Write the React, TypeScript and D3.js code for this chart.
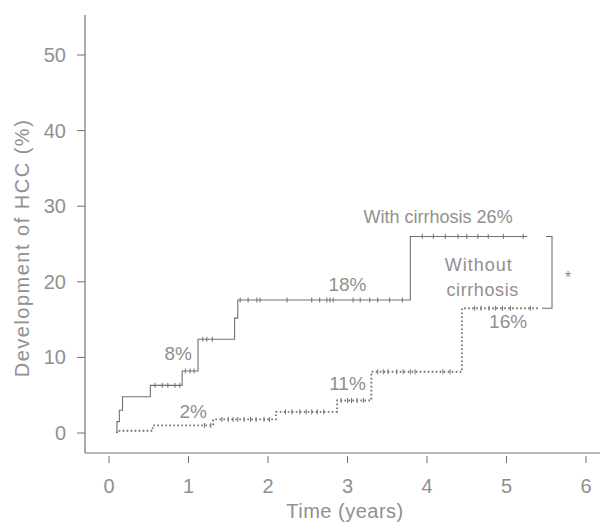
import React from "react";
import * as d3 from "d3";

// ---- Data ----
const xTicks = [0, 1, 2, 3, 4, 5, 6];
const yTicks = [0, 10, 20, 30, 40, 50];

// With cirrhosis: step times and cumulative incidence (%)
const withTimes = [0.1, 0.13, 0.17, 0.52, 0.92, 1.12, 1.58, 1.62, 3.79];
const withValues = [1.5, 3.0, 4.8, 6.3, 8.2, 12.4, 15.2, 17.6, 26.0];
const withEnd = 5.26;
const withCensor = [0.58, 0.67, 0.74, 0.83, 0.89, 0.96, 1.02, 1.07, 1.18, 1.23, 1.3,
  1.65, 1.75, 1.86, 1.9, 2.24, 2.55, 2.65, 2.74, 2.78, 2.82, 3.07, 3.16, 3.28, 3.38, 3.53, 3.69,
  3.94, 4.08, 4.23, 4.39, 4.5, 4.64, 4.77, 4.96, 5.21];

// Without cirrhosis
const withoutTimes = [0.1, 0.55, 1.31, 2.1, 2.87, 3.3, 4.44];
const withoutValues = [0.3, 1.0, 1.8, 2.8, 4.3, 8.1, 16.5];
const withoutEnd = 5.42;
const withoutCensor = [1.2, 1.28, 1.42, 1.5, 1.56, 1.62, 1.7, 1.78, 1.85, 1.95, 2.02,
  2.22, 2.3, 2.4, 2.48, 2.55, 2.62, 2.7, 2.92, 3.0, 3.05, 3.12, 3.2,
  3.38, 3.45, 3.51, 3.62, 3.7, 3.79, 3.85, 4.2, 4.29, 4.6, 4.68, 4.78, 4.86, 4.95, 5.05, 5.3];

const labels = [
  { text: "8%", t: 0.87, v: 10.6, size: 19, ls: 0 },
  { text: "2%", t: 1.06, v: 2.9, size: 19, ls: 0 },
  { text: "18%", t: 3.0, v: 19.6, size: 19, ls: 0 },
  { text: "11%", t: 3.0, v: 6.6, size: 19, ls: 0 },
  { text: "16%", t: 5.02, v: 14.8, size: 19, ls: 0 },
  { text: "With cirrhosis 26%", t: 4.14, v: 28.6, size: 18, ls: 0 },
  { text: "Without", t: 4.65, v: 22.3, size: 18, ls: 1 },
  { text: "cirrhosis", t: 4.7, v: 19.0, size: 18, ls: 0.6 },
];

const textColor = "#909090";
const lineColor = "#707070";
const font = "'Liberation Sans', Arial, sans-serif";

function stepPoints(times: number[], values: number[], end: number): [number, number][] {
  const pts: [number, number][] = [[times[0], 0]];
  let prev = 0;
  times.forEach((t, i) => {
    pts.push([t, prev]);
    pts.push([t, values[i]]);
    prev = values[i];
  });
  pts.push([end, prev]);
  return pts;
}

function valueAt(times: number[], values: number[], t: number): number {
  let v = 0;
  times.forEach((tt, i) => { if (tt <= t) v = values[i]; });
  return v;
}

export default function App() {
  const x = d3.scaleLinear().domain([0, 6]).range([109, 586]);
  const y = d3.scaleLinear().domain([0, 50]).range([433, 55]);
  const line = d3.line<[number, number]>().x(d => x(d[0])).y(d => y(d[1]));

  const withPath = line(stepPoints(withTimes, withValues, withEnd)) || "";
  const withoutPath = line(stepPoints(withoutTimes, withoutValues, withoutEnd)) || "";

  const axisX0 = 85;
  const axisY0 = 453;

  const bracketX = 552;
  const topV = withValues[withValues.length - 1];
  const botV = withoutValues[withoutValues.length - 1];

  return (
    <svg width={600} height={527} style={{ position: "fixed", left: 0, top: 0, background: "#fff" }}
      fontFamily={font}>
      {/* Axes */}
      <line x1={axisX0} y1={15} x2={axisX0} y2={axisY0} stroke={lineColor} strokeWidth={1.2} />
      <line x1={axisX0} y1={axisY0} x2={600} y2={axisY0} stroke={lineColor} strokeWidth={1.2} />
      {yTicks.map(v => (
        <g key={"y" + v}>
          <line x1={axisX0 - 8} x2={axisX0} y1={y(v)} y2={y(v)} stroke={lineColor} strokeWidth={1} />
          <text x={66} y={y(v)} dy="0.35em" textAnchor="end" fontSize={20} fill={textColor}>{v}</text>
        </g>
      ))}
      {xTicks.map(t => (
        <g key={"x" + t}>
          <line x1={x(t)} x2={x(t)} y1={axisY0 + 3} y2={axisY0 + 10} stroke={lineColor} strokeWidth={1} />
          <text x={x(t)} y={486} dy="0.35em" textAnchor="middle" fontSize={20} fill={textColor}>{t}</text>
        </g>
      ))}
      <text x={345} y={511} dy="0.35em" textAnchor="middle" fontSize={20} letterSpacing={0.5} fill={textColor}>Time (years)</text>
      <text transform={`translate(22,248) rotate(-90)`} dy="0.35em" textAnchor="middle" fontSize={20} letterSpacing={1.5} fill={textColor}>
        Development of HCC (%)
      </text>

      {/* Curves */}
      <path d={withPath} fill="none" stroke={lineColor} strokeWidth={1.1} />
      <path d={withoutPath} fill="none" stroke={lineColor} strokeWidth={1.8} strokeDasharray="1.6,2.4" />

      {withCensor.map((t, i) => {
        const v = valueAt(withTimes, withValues, t);
        return <line key={"wc" + i} x1={x(t)} x2={x(t)} y1={y(v) - 2.5} y2={y(v) + 2.5} stroke={lineColor} strokeWidth={1} />;
      })}
      {withoutCensor.map((t, i) => {
        const v = valueAt(withoutTimes, withoutValues, t);
        return <line key={"oc" + i} x1={x(t)} x2={x(t)} y1={y(v) - 2.5} y2={y(v) + 2.5} stroke={lineColor} strokeWidth={1} />;
      })}

      {/* Bracket */}
      <path d={`M${bracketX - 6},${y(topV)} H${bracketX} V${y(botV)} H${bracketX - 10}`} fill="none" stroke={lineColor} strokeWidth={1.1} />
      <text x={568} y={277} dy="0.35em" textAnchor="middle" fontSize={17} fill={textColor}>*</text>

      {/* Labels */}
      {labels.map((l, i) => (
        <text key={"l" + i} x={x(l.t)} y={y(l.v)} dy="0.35em" textAnchor="middle" fontSize={l.size}
          letterSpacing={l.ls} fill={textColor}>{l.text}</text>
      ))}
    </svg>
  );
}
